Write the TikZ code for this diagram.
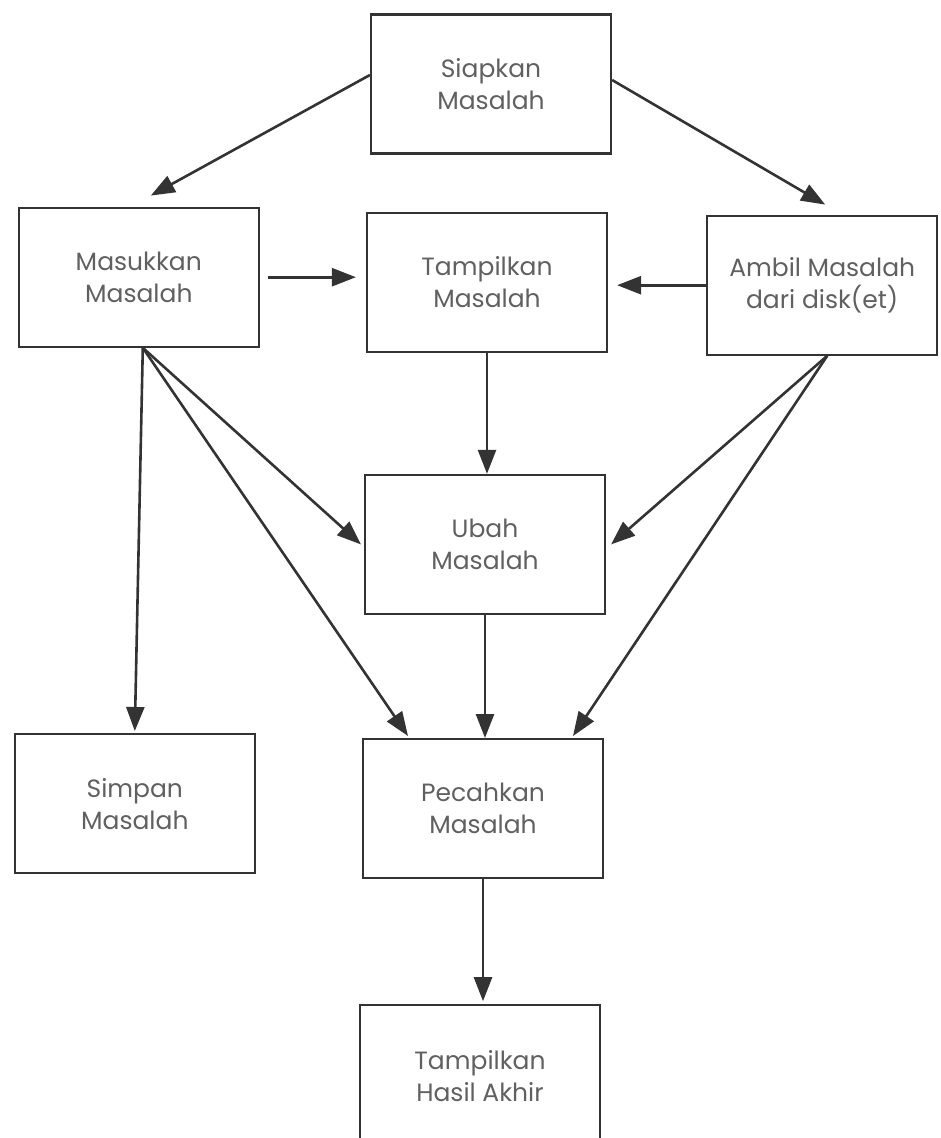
\documentclass[tikz,border=0pt]{standalone}
\usepackage{fontspec}
\setmainfont{Poppins}
\usetikzlibrary{arrows.meta,positioning}
\definecolor{inkgray}{HTML}{333333}
\definecolor{textgray}{HTML}{606060}

\begin{document}
\begin{tikzpicture}[x=1pt,y=1pt,
    proc/.style={draw=inkgray, line width=2.2pt, minimum width=240pt,
      minimum height=139pt, inner sep=0pt, align=center, text=textgray,
      font=\fontsize{25}{32}\selectfont},
    flow/.style={-{Triangle[length=24pt,width=18pt]}, color=inkgray, line width=2.6pt}]
           \useasboundingbox (0,0) rectangle (940,-1138);
           \node[proc] (siap) at (491,-84)                          {Siapkan\\Masalah};
           \node[proc] (tampil) [below=57pt of siap,xshift=-4pt]     {Tampilkan\\Masalah};
           \node[proc] (masuk)  [left=106pt of tampil,yshift=5pt]    {Masukkan\\Masalah};
           \node[proc,minimum width=230pt] (ambil) [right=98pt of tampil,yshift=-3pt] {Ambil Masalah\\dari disk(et)};
           \node[proc] (ubah)   [below=121pt of tampil,xshift=-2pt]  {Ubah\\Masalah};
           \node[proc] (pecah)  [below=123pt of ubah,xshift=-2pt]    {Pecahkan\\Masalah};
           \node[proc] (simpan) [left=106pt of pecah,yshift=5pt]     {Simpan\\Masalah};
           \node[proc,minimum height=141pt] (hasil) [below=125pt of pecah,xshift=-3pt] {Tampilkan\\Hasil Akhir};
            \path[flow]
            ([yshift=9pt]siap.west) edge ([xshift=12pt,yshift=11pt]masuk.north)
            ([yshift=4pt]siap.east) edge ([xshift=3pt,yshift=10pt]ambil.north)
            ([xshift=8pt]masuk.east) edge ([xshift=-10pt]tampil.west |- masuk.east)
            (ambil.west) edge ([xshift=9pt]tampil.east |- ambil.west)
            (tampil.south) edge (tampil.south |- ubah.north)
            ([xshift=4pt]masuk.south) edge ([yshift=2pt]simpan.north)
            ([xshift=4pt]masuk.south) edge ([xshift=-3pt]ubah.west)
            ([xshift=4pt]masuk.south) edge ([xshift=-75pt,yshift=2pt]pecah.north)
            ([xshift=5pt]ambil.south) edge ([xshift=5pt]ubah.east)
            ([xshift=5pt]ambil.south) edge ([xshift=90pt,yshift=2pt]pecah.north)
            (ubah.south) edge (ubah.south |- pecah.north)
            (pecah.south) edge ([yshift=3pt]pecah.south |- hasil.north);
    \end{tikzpicture}
\end{document}
